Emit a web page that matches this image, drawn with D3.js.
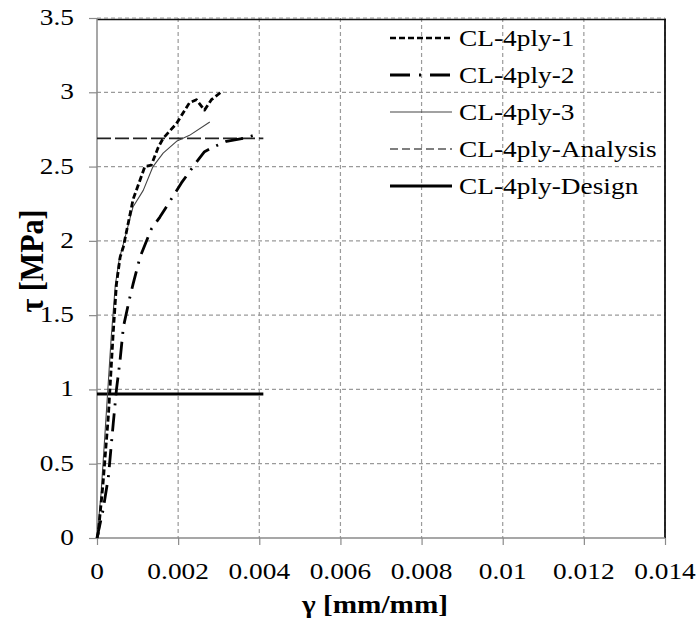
<!DOCTYPE html>
<html>
<head>
<meta charset="utf-8">
<script src="https://cdn.jsdelivr.net/npm/d3@7"></script>
<style>
html,body{margin:0;padding:0;background:#fff;}
svg{display:block;}
text{font-family:"Liberation Serif","Times New Roman",serif;fill:#000;}
</style>
</head>
<body>
<svg id="chart" width="700" height="625"></svg>
<script>
// ---- data ----
const xTicks = [0, 0.002, 0.004, 0.006, 0.008, 0.01, 0.012, 0.014];
const xTickLabels = ["0", "0.002", "0.004", "0.006", "0.008", "0.01", "0.012", "0.014"];
const yTicks = [0, 0.5, 1, 1.5, 2, 2.5, 3, 3.5];
const yTickLabels = ["0", "0.5", "1", "1.5", "2", "2.5", "3", "3.5"];

const seriesNames = ["CL-4ply-1", "CL-4ply-2", "CL-4ply-3", "CL-4ply-Analysis", "CL-4ply-Design"];

const gamma1 = [0, 0.00003, 0.00015, 0.00028, 0.0004, 0.00048, 0.00057, 0.00065, 0.00089, 0.00118, 0.00134, 0.00151, 0.00163, 0.00196, 0.00228, 0.00245, 0.00265, 0.00282, 0.0031];
const tau1   = [0, 0.03, 0.37, 0.82, 1.38, 1.71, 1.89, 1.96, 2.28, 2.50, 2.51, 2.63, 2.69, 2.79, 2.93, 2.95, 2.88, 2.95, 3.01];

const gamma2 = [0, 0.00015, 0.00028, 0.0004, 0.00048, 0.00057, 0.00065, 0.00081, 0.00089, 0.00106, 0.00134, 0.00155, 0.00192, 0.00208, 0.00245, 0.00265, 0.00286, 0.00319, 0.0036, 0.0040];
const tau2   = [0, 0.19, 0.41, 0.77, 1.0, 1.2, 1.42, 1.62, 1.71, 1.89, 2.08, 2.16, 2.32, 2.39, 2.53, 2.60, 2.63, 2.67, 2.69, 2.72];

const gamma3 = [0, 0.0001, 0.00022, 0.00035, 0.00045, 0.00055, 0.00065, 0.00089, 0.00114, 0.00138, 0.00163, 0.00196, 0.00228, 0.00278];
const tau3   = [0, 0.3, 0.8, 1.35, 1.7, 1.88, 1.98, 2.23, 2.34, 2.50, 2.59, 2.67, 2.71, 2.80];

const gammaAnalysis = [0, 0.0041];
const tauAnalysis   = [2.69, 2.69];

const gammaDesign = [0, 0.0041];
const tauDesign   = [0.97, 0.97];

// ---- layout ----
const svg = d3.select("#chart");
const L = 97, R = 665, T = 18, B = 538;
const STRETCH = 1.19;

const x = d3.scaleLinear().domain([0, 0.014]).range([L, R]);
const y = d3.scaleLinear().domain([0, 3.5]).range([B, T]);

function stext(g, tx, ty, str, opts) {
  opts = opts || {};
  const t = g.append("text")
    .attr("transform", `translate(${tx},${ty}) scale(${opts.sx || STRETCH},1)`)
    .attr("text-anchor", opts.anchor || "start")
    .style("font-size", (opts.size || 23) + "px")
    .text(str);
  if (opts.bold) t.style("font-weight", "bold");
  return t;
}

// gridlines
const grid = svg.append("g");
grid.selectAll("line.v").data(xTicks.slice(1)).join("line")
  .attr("x1", d => x(d)).attr("x2", d => x(d))
  .attr("y1", T).attr("y2", B)
  .attr("stroke", "#9a9a9a").attr("stroke-width", 1.2).attr("stroke-dasharray", "4,3");
grid.selectAll("line.h").data(yTicks.slice(1)).join("line")
  .attr("x1", L).attr("x2", R)
  .attr("y1", d => y(d)).attr("y2", d => y(d))
  .attr("stroke", "#9a9a9a").attr("stroke-width", 1.2).attr("stroke-dasharray", "4,3");

// top & right borders (black)
svg.append("line").attr("x1", L).attr("x2", R + 1).attr("y1", T + 1.5).attr("y2", T + 1.5)
  .attr("stroke", "#111").attr("stroke-width", 1.6);
svg.append("line").attr("x1", R).attr("x2", R).attr("y1", T + 1).attr("y2", B)
  .attr("stroke", "#111").attr("stroke-width", 1.8);

// axes (gray)
const xAxis = d3.axisBottom(x).tickValues(xTicks).tickSize(7).tickFormat("");
const yAxis = d3.axisLeft(y).tickValues(yTicks).tickSize(8).tickFormat("");
const gx = svg.append("g").attr("transform", `translate(0,${B})`).call(xAxis);
const gy = svg.append("g").attr("transform", `translate(${L},0)`).call(yAxis);
[gx, gy].forEach(g => {
  g.select(".domain").attr("stroke", "#8a8a8a").attr("stroke-width", 1.5);
  g.selectAll(".tick line").attr("stroke", "#8a8a8a").attr("stroke-width", 1.2);
});
gx.select(".domain").attr("d", `M${L},0H${R}`);
gy.select(".domain").attr("d", `M0,${B}V${T}`);

// tick labels
const labels = svg.append("g");
xTicks.forEach((v, i) => stext(labels, x(v), 579, xTickLabels[i], {anchor: "middle"}));
yTicks.forEach((v, i) => stext(labels, 74, y(v) + 7, yTickLabels[i], {anchor: "end"}));

// axis titles
stext(svg, 375, 613, "γ [mm/mm]", {anchor: "middle", bold: true, size: 25, sx: 1.17});
svg.append("text")
  .attr("transform", `translate(43,261) rotate(-90) scale(1,1.15)`)
  .attr("text-anchor", "middle")
  .style("font-size", "30px").style("font-weight", "bold")
  .text("τ [MPa]");

// series
const styles = [
  {w: 2.8, dash: "6,3", color: "#000"},
  {w: 2.8, dash: "18,8,2,8", color: "#000"},
  {w: 1.1, dash: null, color: "#444"},
  {w: 1.8, dash: "14,4", color: "#222"},
  {w: 3, dash: null, color: "#000"}
];
const seriesData = [
  gamma1.map((g, i) => [g, tau1[i]]),
  gamma2.map((g, i) => [g, tau2[i]]),
  gamma3.map((g, i) => [g, tau3[i]]),
  gammaAnalysis.map((g, i) => [g, tauAnalysis[i]]),
  gammaDesign.map((g, i) => [g, tauDesign[i]])
];
const line = d3.line().x(d => x(d[0])).y(d => y(d[1])).curve(d3.curveLinear);
const drawOrder = [3, 4, 2, 1, 0];
drawOrder.forEach(k => {
  const p = svg.append("path").datum(seriesData[k])
    .attr("d", line).attr("fill", "none")
    .attr("stroke", styles[k].color).attr("stroke-width", styles[k].w)
    .attr("stroke-linejoin", "round");
  if (styles[k].dash) p.attr("stroke-dasharray", styles[k].dash);
});

// legend
const legendDash = ["6,3", "20,9,2,9", null, "8,4", null];
const legendW = [2.6, 2.8, 1.1, 1.4, 2.8];
const legendColor = ["#000", "#000", "#444", "#555", "#000"];
const lg = svg.append("g");
seriesNames.forEach((name, i) => {
  const cy = 38 + i * 37;
  const l = lg.append("line").attr("x1", 390).attr("x2", 452).attr("y1", cy).attr("y2", cy)
    .attr("stroke", legendColor[i]).attr("stroke-width", legendW[i]);
  if (legendDash[i]) l.attr("stroke-dasharray", legendDash[i]);
  stext(lg, 459, cy + 8, name, {size: 23});
});
</script>
</body>
</html>
